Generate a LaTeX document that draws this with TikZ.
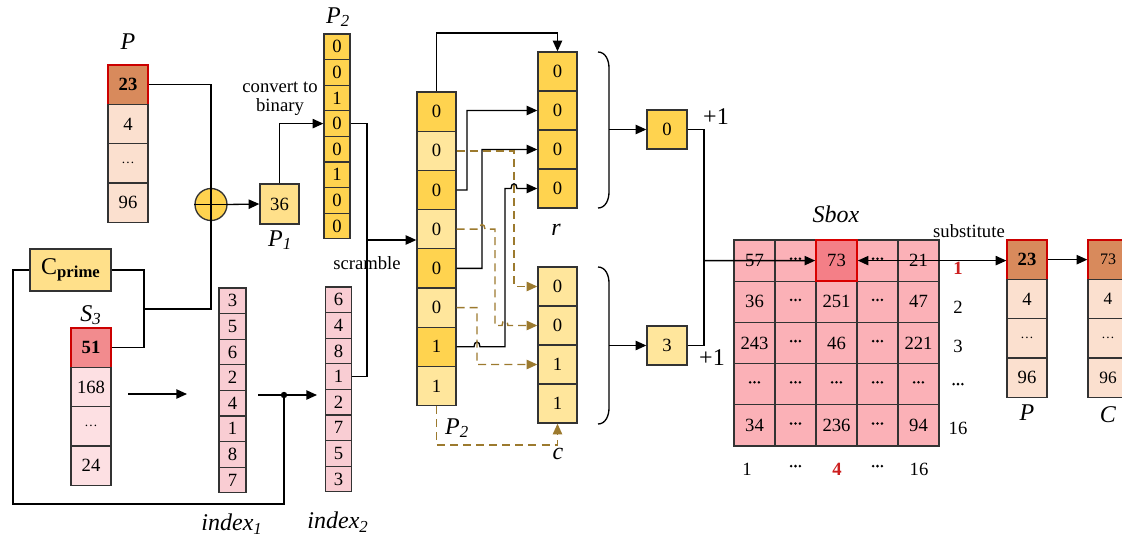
\documentclass[tikz,border=0pt]{standalone}
\usepackage{fontspec}
\setmainfont{Liberation Serif}
\usetikzlibrary{arrows.meta,calc}
\definecolor{gold}{HTML}{FFD34F}
\definecolor{goldl}{HTML}{FFE69C}
\definecolor{goldm}{HTML}{FFE08A}
\definecolor{brownc}{HTML}{D88A5C}
\definecolor{peach}{HTML}{FBE0CF}
\definecolor{redc}{HTML}{F28B8E}
\definecolor{pinkl}{HTML}{FDE0E3}
\definecolor{pinki}{HTML}{F9CDD3}
\definecolor{sboxc}{HTML}{FBB1B7}
\definecolor{sboxr}{HTML}{F47F87}
\definecolor{dashc}{HTML}{9C7A2E}
\definecolor{redt}{HTML}{CC1F1F}
\newcommand{\bdots}{\tikz[baseline=-0.6ex]{\foreach \k in {0,1,2}{\fill (\k*3.3pt,0pt) circle (1.05pt);}}}
\newcommand{\ilab}[2]{\textit{#1}\textsubscript{\textit{#2}}}
\tikzset{
 cell/.style={draw=black!80, line width=1pt, inner sep=0pt, font=\fontsize{14}{16}\selectfont},
 ln/.style={line width=1pt},
 arr/.style={ln, -{Triangle[length=8pt,width=7pt]}},
 dsh/.style={dashc, line width=1.1pt, dash pattern=on 6pt off 3.8pt},
 darr/.style={dsh, -{Triangle[length=8pt,width=7pt]}},
 lab/.style={font=\fontsize{18}{20}\selectfont},
 txt/.style={font=\fontsize{14}{16}\selectfont},
 redframe/.style={draw=red!80!black},
}
\begin{document}
\begin{tikzpicture}[x=0.75pt,y=-0.75pt]
\path[use as bounding box] (0,0) rectangle (1122,540);
\clip (0,0) rectangle (1122,540);

% ---------- P (left) ----------
\node[lab] (Plab) at (128,42) {\textit{P}};
\node[cell, fill=brownc, redframe, minimum width=30pt, minimum height=29.5pt, font=\fontsize{14}{16}\selectfont\bfseries] (Pa1) at (128,84.65) {23};
\foreach \v [count=\i from 2] in {4,{\fontsize{10}{12}\selectfont\ldots},96}
  \node[cell, fill=peach, minimum width=30pt, minimum height=29.5pt] (Pa\i) at (128,{65+39.3*(\i-0.5)}) {\v};

% ---------- S3 ----------
\node[lab] (S3lab) at (91,315) {\ilab{S}{3}};
\node[cell, fill=redc, redframe, minimum width=30pt, minimum height=29.5pt, font=\fontsize{14}{16}\selectfont\bfseries] (T1) at (91,347.65) {51};
\foreach \v [count=\i from 2] in {168,{\fontsize{10}{12}\selectfont\ldots},24}
  \node[cell, fill=pinkl, minimum width=30pt, minimum height=29.5pt] (T\i) at (91,{328+39.3*(\i-0.5)}) {\v};

% ---------- C prime ----------
\node[cell, fill=goldm, minimum width=60.75pt, minimum height=31.5pt] (Cp) at (70.5,270)
  {{\fontsize{18}{20}\selectfont C}\raisebox{-0.4ex}{\fontsize{12.5}{14}\selectfont\bfseries prime}};

% ---------- XOR ----------
\node[circle, draw=black!80, line width=1pt, fill=gold, minimum size=24pt, inner sep=0pt] (xor) at (211,204.5) {};
\draw[ln] (xor.north) -- (xor.south) (xor.west) -- (xor.east);

% ---------- P1 ----------
\node[cell, fill=goldm, minimum width=29.25pt, minimum height=30pt] (P1) at (279.5,204) {36};
\node[lab] (P1lab) at (280,240) {\ilab{P}{1}};

% ---------- P2 ----------
\node[lab] (P2lab) at (338,17) {\ilab{P}{2}};
\foreach \v [count=\i] in {0,0,1,0,0,1,0,0}
  \node[cell, fill=gold, minimum width=19.5pt, minimum height=19.2pt] (B\i) at (337,{34+25.6*(\i-0.5)}) {\v};
\node[txt, align=center] (conv) at (280,99) {convert to\\[-2pt]binary};

% ---------- index1 / index2 ----------
\foreach \v [count=\i] in {3,5,6,2,4,1,8,7}
  \node[cell, fill=pinki, minimum width=20.25pt, minimum height=19.2pt] (I\i) at (232.5,{288+25.6*(\i-0.5)}) {\v};
\foreach \v [count=\i] in {6,4,8,1,2,7,5,3}
  \node[cell, fill=pinki, minimum width=19.5pt, minimum height=19.2pt] (J\i) at (338.5,{287+25.6*(\i-0.5)}) {\v};
\node[lab] (i1lab) at (232,524) {\ilab{index}{1}};
\node[lab] (i2lab) at (338,522) {\ilab{index}{2}};
\node[txt] (scr) at (367,263) {scramble};

% ---------- scrambled P2 ----------
\foreach \v/\c [count=\i] in {0/gold,0/goldl,0/gold,0/goldl,0/gold,0/goldl,1/gold,1/goldl}
  \node[cell, fill=\c, minimum width=29.25pt, minimum height=29.4pt] (Q\i) at (436.5,{92+39.2*(\i-0.5)}) {\v};
\node[lab] (Q2lab) at (457,428) {\ilab{P}{2}};

% ---------- r and c ----------
\foreach \i in {1,...,4}
  \node[cell, fill=gold, minimum width=29.25pt, minimum height=29.25pt] (r\i) at (557.5,{52+39*(\i-0.5)}) {0};
\foreach \v [count=\i] in {0,0,1,1}
  \node[cell, fill=goldl, minimum width=29.25pt, minimum height=29.25pt] (c\i) at (557.5,{267+39*(\i-0.5)}) {\v};
\node[lab] (rlab) at (556,230) {\textit{r}};
\node[lab] (clab) at (558,454) {\textit{c}};

% brackets
\draw[ln] (598,52) to[out=0,in=90] (609,68) -- (609,192) to[out=-90,in=0] (598,208);
\draw[ln] (598,267) to[out=0,in=90] (609,283) -- (609,408) to[out=-90,in=0] (598,424);
\coordinate (rb) at (609,129.5);
\coordinate (cb) at (609,345.5);

% sums
\node[cell, fill=gold, minimum width=30pt, minimum height=29.25pt] (sum0) at (667,129.5) {0};
\node[cell, fill=goldl, minimum width=30pt, minimum height=29.25pt] (sum3) at (667,345.5) {3};
\node[font=\fontsize{18}{20}\selectfont] (pl1) at (716,117) {+1};
\node[font=\fontsize{18}{20}\selectfont] (pl2) at (712,358) {+1};

% ---------- Sbox ----------
\node[lab] (sblab) at (836,214) {\textit{Sbox}};
\foreach \row [count=\j] in {{57,\bdots,73,\bdots,21},{36,\bdots,251,\bdots,47},{243,\bdots,46,\bdots,221},{\bdots,\bdots,\bdots,\bdots,\bdots},{34,\bdots,236,\bdots,94}}
  \foreach \v [count=\i] in \row
    \node[cell, fill=sboxc, minimum width=30.75pt, minimum height=30.9pt] (S\j\i) at ({734+41*(\i-0.5)},{240+41.2*(\j-0.5)}) {\v};
\node[cell, fill=sboxr, draw=red!85!black, line width=1.2pt, minimum width=30.75pt, minimum height=30.9pt] (T73) at (S13) {73};
\node[txt, text=redt, font=\fontsize{14}{16}\selectfont\bfseries] (rw1) at (958,268) {1};
\node[txt] (rw2) at (958,307) {2};
\node[txt] (rw3) at (958,346) {3};
\node[txt] (rw4) at (958,386) {\bdots};
\node[txt] (rw5) at (958,428) {16};
\node[txt] (cl1) at (747,469) {1};
\node[txt] (cl2) at (795.5,468) {\bdots};
\node[txt, text=redt, font=\fontsize{14}{16}\selectfont\bfseries] (cl3) at (837,469) {4};
\node[txt] (cl4) at (877.5,468) {\bdots};
\node[txt] (cl5) at (919,469) {16};
\node[txt] (subs) at (969,231) {substitute};

% ---------- P (right) and C ----------
\node[cell, fill=brownc, redframe, minimum width=30pt, minimum height=29.5pt, font=\fontsize{14}{16}\selectfont\bfseries] (Po1) at (1027,259.65) {23};
\foreach \v [count=\i from 2] in {4,{\fontsize{10}{12}\selectfont\ldots},96}
  \node[cell, fill=peach, minimum width=30pt, minimum height=29.5pt] (Po\i) at (1027,{240+39.3*(\i-0.5)}) {\v};
\node[cell, fill=brownc, redframe, minimum width=30pt, minimum height=29.5pt, font=\fontsize{12}{14}\selectfont] (Co1) at (1108,259.65) {73};
\foreach \v [count=\i from 2] in {4,{\fontsize{10}{12}\selectfont\ldots},96}
  \node[cell, fill=peach, minimum width=30pt, minimum height=29.5pt, font=\fontsize{13}{15}\selectfont] (Co\i) at (1108,{240+39.3*(\i-0.5)}) {\v};
\node[lab] (Polab) at (1027,413) {\textit{P}};
\node[lab] (Colab) at (1108,415) {\textit{C}};

% ---------- connectors ----------
\coordinate (j1) at (144,309);
\coordinate (k1) at (13,504);
\coordinate (dot) at (284,395);
\coordinate (sc) at (367,240);
\coordinate (a1) at (128,394);
\coordinate (a2) at (187,394);
\coordinate (b1) at (258,395);
\coordinate (b2) at (317,395);
\coordinate (rtop) at (557.5,33);
\coordinate (cbot) at (557.5,445);
\coordinate (jn) at (704,260.6);

\draw[ln] (Pa1.east) -| (xor.north);
\draw[ln] (xor.south) |- (j1);
\draw[ln] (Cp.east) -| (j1) |- (T1.east);
\draw[arr] (xor.east) -- (P1.west);
\draw[arr] (P1.north) |- (B4.west);
\draw[ln] (B4.east) -| (sc);
\draw[ln] (J4.east) -| (sc);
\draw[arr] (sc) -- (sc -| Q4.west);
\draw[arr] (a1) -- (a2);
\draw[arr] (b1) -- (b2);
\draw[ln] (Cp.west) -| (k1) -| (dot);
\fill (dot) circle (2.4pt);

% to r
\draw[arr] (Q1.north) |- (rtop) -- (r1.north);
\draw[arr] (Q3.east) -- (467,190) |- (r2.west);
\draw[arr] (Q5.east) -- (482,268.4) |- (r3.west);
\draw[arr] (Q7.east) -- (474,346.8) .. controls (474,340.5) and (480,340.5) .. (480,346.8) -- (505,346.8) -- (505,188.5) -- (511,188.5) .. controls (511,182.2) and (517,182.2) .. (517,188.5) -- (r4.west);

% to c (dashed)
\draw[darr] (Q2.east) -- (514,150.8) |- (c1.west);
\draw[darr] (Q4.east) -- (479,229.2) .. controls (479,223) and (485,223) .. (485,229.2) -- (495,229.2) -- (495,325.5) -- (502,325.5) .. controls (502,319.2) and (508,319.2) .. (508,325.5) -- (c2.west);
\draw[darr] (Q6.east) -- (477,307.6) |- (c3.west);
\draw[darr] (Q8.south) |- (cbot) -- (c4.south);

% sums
\draw[arr] (rb) -- (sum0.west);
\draw[arr] (cb) -- (sum3.west);
\draw[ln] (sum0.east) -| (jn) |- (sum3.east);
\draw[arr] (jn) -- (T73.west);
\draw[ln, {Triangle[length=8pt,width=7pt]}-{Triangle[length=8pt,width=7pt]}] (T73.east) -- (T73.east -| Po1.west);
\draw[arr] (Po1.east) -- (Co1.west);
\end{tikzpicture}
\end{document}
